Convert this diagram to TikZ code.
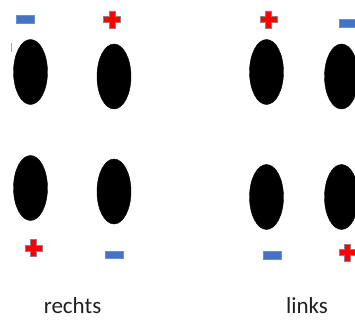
\documentclass[tikz,border=0pt]{standalone}
\usepackage{fontspec}
\setmainfont{Carlito}
\usetikzlibrary{shapes.geometric}
\definecolor{minusblue}{HTML}{4472C4}
\definecolor{minusedge}{HTML}{6A8FD0}
\definecolor{plusred}{HTML}{FF0000}
\definecolor{plusedge}{HTML}{9A7A8A}
\tikzset{
  blob/.style={ellipse, fill=black, draw=black, inner sep=0pt, minimum width=34pt, minimum height=65pt},
  lbl/.style={inner sep=0pt, anchor=base, font=\fontsize{23}{26}\selectfont, text=black!88},
  minus/.pic={\filldraw[fill=minusblue, draw=minusedge, line width=0.5pt] (-9,-3.9) rectangle (9,3.9);},
  plus/.pic={\filldraw[fill=plusred, draw=plusedge, line width=0.5pt]
     (-3,-8.5) -- (3,-8.5) -- (3,-3) -- (8.5,-3) -- (8.5,3) -- (3,3) -- (3,8.5) -- (-3,8.5) -- (-3,3) -- (-8.5,3) -- (-8.5,-3) -- (-3,-3) -- cycle;}
}
\begin{document}
\begin{tikzpicture}[x=1pt, y=-1pt]
\useasboundingbox (0,0) rectangle (355,320);
\clip (0,0) rectangle (355,320);
% ellipses
\node[blob] (e1) at (30.5,72) {};
\node[blob] (e2) at (114,76.5) {};
\node[blob] (e3) at (266.5,72) {};
\node[blob] (e4) at (341.5,76.5) {};
\node[blob] (e5) at (30.5,188) {};
\node[blob] (e6) at (114,191.5) {};
\node[blob] (e7) at (266.5,197) {};
\node[blob] (e8) at (341.5,197) {};
% signs
\pic at (25,19) {minus};
\pic at (112,19.5) {plus};
\pic at (268.5,19.5) {plus};
\pic at (348,23) {minus};
\pic at (33.5,248) {plus};
\pic at (114.7,254.7) {minus};
\pic at (272,255) {minus};
\pic at (347.5,252.5) {plus};
% small mark
\draw[gray!70, line width=0.8pt] (11,43) -- (11,52);
% labels
\node[lbl] (r) at (72.5,313) {rechts};
\node[lbl] (l) at (307,313) {links};
\end{tikzpicture}
\end{document}
